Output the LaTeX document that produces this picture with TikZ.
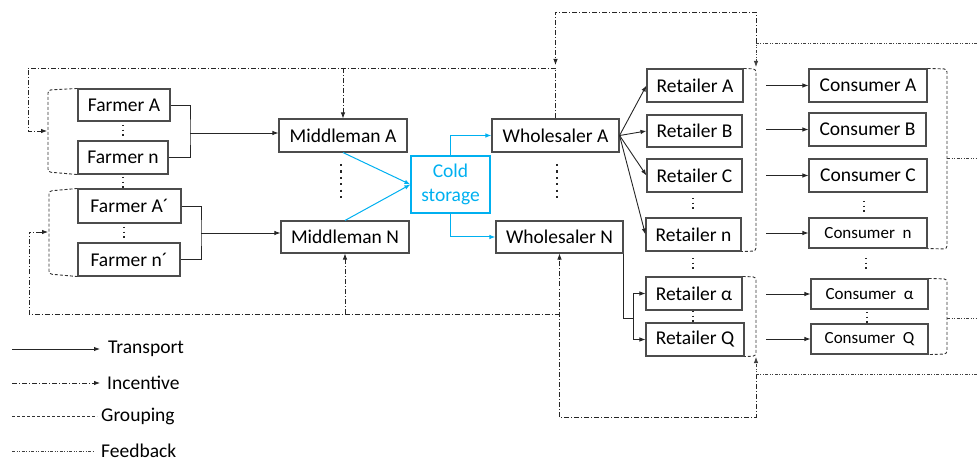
\documentclass[tikz,border=0pt]{standalone}
\usepackage{fontspec}
\setmainfont{Carlito}
\usetikzlibrary{arrows.meta}
\definecolor{cyanline}{RGB}{0,176,240}
\begin{document}
\begin{tikzpicture}[x=1pt,y=-1pt,
  box/.style={draw=black!70, line width=1.1pt, inner sep=0pt, font=\fontsize{19.5}{22}\selectfont},
  sbox/.style={box, font=\fontsize{17}{20}\selectfont},
  cbox/.style={draw=cyanline, line width=1.1pt, inner sep=0pt, text=cyanline, align=center, font=\fontsize{19.5}{24}\selectfont},
  tip/.style={-{Latex[length=6pt,width=4.5pt]}},
  tr/.style={draw=black!85, line width=0.9pt},
  cy/.style={draw=cyanline, line width=1pt},
  inc/.style={draw=black!85, line width=0.8pt, dash pattern=on 5pt off 2pt on 1pt off 2pt},
  fb/.style={draw=black!75, line width=0.8pt, dash pattern=on 3pt off 1.5pt on 1pt off 1.5pt on 1pt off 1.5pt},
  grp/.style={draw=black!80, line width=0.9pt, dash pattern=on 3pt off 2pt, rounded corners=3pt},
  elip/.style={draw=black!85, line width=1.3pt, dash pattern=on 1.3pt off 3.4pt},
  bigelip/.style={draw=black!85, line width=2.2pt, dash pattern=on 2.2pt off 4.2pt},
  lab/.style={anchor=west, inner sep=0pt, font=\fontsize{19.5}{22}\selectfont}
]
\useasboundingbox (0,0) rectangle (977,462);

% Farmers
\node[box, minimum width=92pt, minimum height=32pt] (FA) at (124,105) {Farmer A};
\node[box, minimum width=90pt, minimum height=33pt] (Fn) at (123,157.5) {Farmer n};
\node[box, minimum width=103pt, minimum height=34pt] (FA2) at (129.5,206) {Farmer A´};
\node[box, minimum width=102pt, minimum height=33pt] (Fn2) at (129,259.5) {Farmer n´};
% Middlemen
\node[box, minimum width=128pt, minimum height=33pt] (MA) at (343,135.5) {Middleman A};
\node[box, minimum width=128pt, minimum height=32pt] (MN) at (345,237) {Middleman N};
% Cold storage
\node[cbox, minimum width=79pt, minimum height=57pt] (CS) at (450.5,184.5) {Cold\\storage};
% Wholesalers
\node[box, minimum width=127pt, minimum height=33pt] (WA) at (555.5,135.5) {Wholesaler A};
\node[box, minimum width=127pt, minimum height=32pt] (WN) at (559.5,237) {Wholesaler N};
% Retailers
\node[box, minimum width=96pt, minimum height=33pt] (RA) at (695,85.5) {Retailer A};
\node[box, minimum width=95pt, minimum height=32pt] (RB) at (694.5,131) {Retailer B};
\node[box, minimum width=95pt, minimum height=33pt] (RC) at (694.5,175.5) {Retailer C};
\node[box, minimum width=95pt, minimum height=33pt] (Rn) at (693.5,234.5) {Retailer n};
\node[box, minimum width=96pt, minimum height=33pt] (Ral) at (694,293.5) {Retailer α};
\node[box, minimum width=98pt, minimum height=33pt] (RQ) at (695,339.5) {Retailer Q};
% Consumers
\node[box, minimum width=118pt, minimum height=33pt] (CA) at (868,85.5) {Consumer A};
\node[box, minimum width=117pt, minimum height=33pt] (CB) at (867.5,129.5) {Consumer B};
\node[box, minimum width=118pt, minimum height=33pt] (CC) at (868,175.5) {Consumer C};
\node[sbox, minimum width=118pt, minimum height=30pt] (Cn) at (868,233) {Consumer\ \ n};
\node[sbox, minimum width=117pt, minimum height=30pt] (Cal) at (869.5,294) {Consumer\ \ α};
\node[sbox, minimum width=117pt, minimum height=30pt] (CQ) at (869.5,339) {Consumer\ \ Q};

% ellipsis dots
\draw[elip] (123,125) -- (123,137);
\draw[elip] (123,177) -- (123,189);
\draw[elip] (124,227) -- (124,239);
\draw[bigelip] (341,164) -- (341,200);
\draw[bigelip] (557,164) -- (557,200);
\draw[elip] (693,198) -- (693,210);
\draw[elip] (693,258) -- (693,270);
\draw[elip] (693,311) -- (693,323);
\draw[elip] (864,201) -- (864,213);
\draw[elip] (866,258) -- (866,270);
\draw[elip] (867,312) -- (867,324);

% Transport: farmers -> middlemen
\coordinate (j1) at (190,133);
\coordinate (j2) at (201,233);
\draw[tr] (FA.east) -| (j1) |- (Fn.east);
\draw[tr, tip] (j1) -- (MA.west |- j1);
\draw[tr] (FA2.east) -| (j2) |- (Fn2.east);
\draw[tr, tip] (j2) -- (MN.west |- j2);

% Cold chain
\draw[cy, tip] (MA.south) -- (CS.west);
\draw[cy, tip] (MN.north) -- (CS.west);
\draw[cy, tip] (CS.north) |- (WA.west);
\draw[cy, tip] (CS.south) |- (WN.west);

% Wholesalers -> retailers
\draw[tr, tip] (WA.east) -- (RA.west);
\draw[tr, tip] (WA.east) -- (RB.west);
\draw[tr, tip] (WA.east) -- (RC.west);
\draw[tr, tip] (WA.east) -- (Rn.west);
\coordinate (j3) at (633,318);
\draw[tr] (WN.south east) |- (j3);
\draw[tr, tip] (j3) |- (Ral.west);
\draw[tr, tip] (j3) |- (RQ.west);

% Retailers -> consumers
\draw[tr, tip] (766,0 |- CA.west) -- (CA.west);
\draw[tr, tip] (766,0 |- CB.west) -- (CB.west);
\draw[tr, tip] (766,0 |- CC.west) -- (CC.west);
\draw[tr, tip] (766,0 |- Cn.west) -- (Cn.west);
\draw[tr, tip] (766,0 |- Cal.west) -- (Cal.west);
\draw[tr, tip] (766,0 |- CQ.west) -- (CQ.west);

% Grouping
\draw[grp] (FA.north west) -- (48,90) -- (48,172) -- (Fn.south west);
\draw[grp] (FA2.north west) -- (49,191) -- (49,274) -- (Fn2.south west);
\draw[grp] (RA.north east) -- (756,69) -- (756,251) -- (Rn.south east);
\draw[grp] (Ral.north east) -- (756,277) -- (756,356) -- (RQ.south east);
\draw[grp] (CA.north east) -- (947,69) -- (947,249) -- (Cn.south east);
\draw[grp] (Cal.north east) -- (947,279) -- (947,354) -- (CQ.south east);

% Incentive / feedback coordinates
\coordinate (g1) at (47,131);
\coordinate (g2) at (48,232);
\coordinate (rg1) at (756,67);
\coordinate (rg2) at (756,357);
\coordinate (t1) at (756,43);
\coordinate (t2) at (756,374);
\coordinate (fr1) at (977,43);
\coordinate (fr2) at (977,374);
\coordinate (cg1) at (947,158);
\coordinate (cg2) at (947,318);
\coordinate (ce1) at (977,158);
\coordinate (ce2) at (977,318);

% Incentive top
\draw[inc, tip] (WA.north) |- (28,68) |- (g1);
\draw[inc, tip] (MA.north |- 0,68) -- (MA.north);
\draw[inc, tip] (t1) |- (WA.north |- 0,12) -- (WA.north |- 0,65);
% Incentive bottom
\draw[inc, tip] (t2) |- (WN.south |- 0,417) -- (WN.south);
\draw[inc, tip] (WN.south |- 0,314) -| (29,0 |- g2) -- (g2);
\draw[inc, tip] (MN.south |- 0,314) -- (MN.south);

% Feedback
\draw[fb, tip] (fr1) -| (rg1);
\draw[fb, tip] (fr2) -| (rg2);
\draw[fb] (cg1) -- (ce1);
\draw[fb] (cg2) -- (ce2);

% Legend
\coordinate (l1a) at (12,349); \coordinate (l1b) at (100,349);
\coordinate (l2a) at (12,383); \coordinate (l2b) at (100,383);
\coordinate (l3a) at (12,416); \coordinate (l3b) at (97,416);
\coordinate (l4a) at (12,451); \coordinate (l4b) at (95,451);
\draw[tr, tip] (l1a) -- (l1b);
\draw[inc, tip] (l2a) -- (l2b);
\draw[grp] (l3a) -- (l3b);
\draw[fb] (l4a) -- (l4b);
\node[lab] (L1) at (108,349) {Transport};
\node[lab] (L2) at (107,383) {Incentive};
\node[lab] (L3) at (101,416) {Grouping};
\node[lab] (L4) at (101,451) {Feedback};
\end{tikzpicture}
\end{document}
